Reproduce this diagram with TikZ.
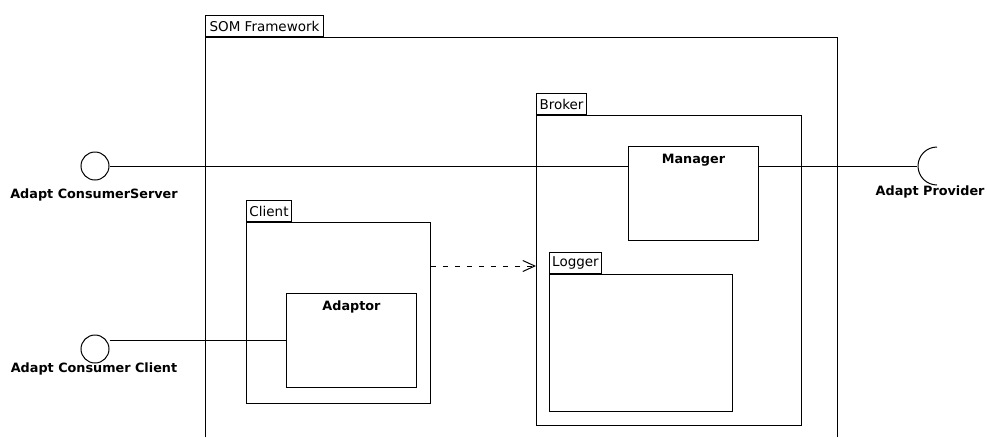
\documentclass[tikz,border=0pt]{standalone}
\usepackage{fontspec}
\setmainfont{DejaVu Sans}
\usetikzlibrary{arrows.meta}
\begin{document}
\begin{tikzpicture}[x=1pt,y=-1pt,line width=1pt,
  tabbox/.style={draw,anchor=south west,inner sep=0pt,minimum height=21pt,
    font=\fontsize{13.5}{14}\selectfont},
  pkgbox/.style={draw,anchor=north west,inner sep=0pt},
  compbox/.style={draw,anchor=north west,inner sep=0pt,minimum width=130pt,minimum height=94pt},
  boldtext/.style={font=\fontsize{12.8}{14}\bfseries\selectfont,inner sep=0pt},
  iface/.style={draw,circle,inner sep=0pt,minimum size=28pt},
  link/.style={draw},
  dep/.style={draw,dash pattern=on 5pt off 7pt,-{Straight Barb[length=12pt,width=11pt]}}]
\useasboundingbox (0,0) rectangle (987,437);

% SOM Framework package (open at the bottom)
\node[tabbox,minimum width=118pt] (somtab) at (205,37) {SOM Framework};
\coordinate (somtl) at (205,37);
\coordinate (somtr) at (837,37);
\coordinate (sombl) at (205,437);
\coordinate (sombr) at (837,437);
\draw (sombl) -- (somtl) -- (somtr) -- (sombr);

% Broker package
\node[tabbox,minimum width=50pt] (brokertab) at (536,115) {Broker};
\node[pkgbox,minimum width=265pt,minimum height=310pt] (broker) at (536,115) {};

% Manager component
\node[compbox] (manager) at (628,146) {};
\node[boldtext] (managerlbl) at ([yshift=-14pt]manager.north) {Manager};

% Logger package
\node[tabbox,minimum width=52pt] (loggertab) at (549,274) {Logger};
\node[pkgbox,minimum width=183pt,minimum height=137pt] (logger) at (549,274) {};

% Client package
\node[tabbox,minimum width=45pt] (clienttab) at (246,222) {Client};
\node[pkgbox,minimum width=184pt,minimum height=181pt] (client) at (246,222) {};

% Adaptor component
\node[compbox] (adaptor) at (286,293) {};
\node[boldtext] (adaptorlbl) at ([yshift=-14pt]adaptor.north) {Adaptor};

% Provided interfaces
\node[iface] (server) at (95,166) {};
\node[boldtext] (serverlbl) at (94,195) {Adapt ConsumerServer};
\node[iface] (cclient) at (95,349) {};
\node[boldtext] (cclientlbl) at (94,369) {Adapt Consumer Client};

% Required interface (socket)
\coordinate (provider) at (917,166);
\draw ([xshift=20pt,yshift=19pt]provider) arc (90:270:19pt and 19pt);
\node[boldtext,anchor=east] (providerlbl) at (985,192) {Adapt Provider};

% Connectors
\draw[link] (server.east) -- (server.east -| manager.west);
\draw[link] (manager.east |- server.east) -- (provider);
\draw[link] (adaptor.west -| cclient.east) -- (adaptor.west);
\coordinate (deplevel) at (0,266);
\draw[dep] (client.east |- deplevel) -- (broker.west |- deplevel);
\end{tikzpicture}
\end{document}
